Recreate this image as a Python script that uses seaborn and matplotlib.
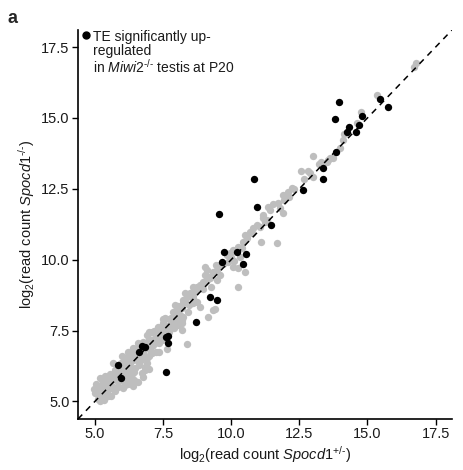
import numpy as np
import pandas as pd
import matplotlib
matplotlib.use("Agg")
import matplotlib.pyplot as plt
import seaborn as sns

# ---- data (log2 read counts) ----
other_x = [16.77, 16.69, 15.34, 14.75, 14.60, 14.13, 14.09, 13.98, 13.73, 13.54,
           13.28, 12.99, 13.21, 13.51, 13.62, 12.55, 12.88, 12.99, 12.66, 12.81,
           12.22, 12.08, 12.30, 12.11, 11.89, 11.93, 11.71, 11.53, 11.34, 11.42,
           11.89, 11.78, 11.16, 11.23, 11.16, 11.31, 11.05, 10.94, 10.79, 10.68,
           10.76, 10.50, 10.57, 10.43, 11.09, 11.67, 10.39, 10.24, 10.06, 9.95,
           9.84, 10.32, 10.24, 10.50, 10.06, 9.58, 9.47, 9.33, 9.11, 9.03,
           9.03, 9.22, 9.47, 8.96, 8.85, 8.74, 8.59, 8.67, 8.48, 8.30,
           8.37, 8.30, 8.23, 8.23, 8.19, 10.24, 9.33, 9.40, 9.14, 8.85,
           8.59, 8.41, 8.23, 8.19, 7.93, 7.86, 7.57, 7.49, 7.31, 8.04,
           8.19, 7.86, 8.37, 7.64,
           5.18, 5.11, 5.29, 5.48, 5.26, 5.44, 5.62, 5.73, 5.18, 5.37,
           5.55, 5.84, 6.03, 6.21, 6.39, 6.58, 6.17, 6.36, 5.99, 5.73,
           6.10, 6.28, 6.47, 6.72, 6.83, 6.17, 6.36, 6.47, 6.65, 6.91,
           7.09, 6.94, 7.13, 6.76, 6.58, 6.91, 7.09, 7.27, 7.46, 7.57,
           7.31, 7.75, 7.93, 8.12, 8.04, 8.19,
           5.00, 5.05, 4.95, 5.20, 5.35, 5.40, 5.60, 5.50, 5.30, 5.70,
           5.90, 5.80, 5.95, 6.00, 6.10, 6.25, 6.30, 6.40, 6.50, 6.60,
           6.70, 6.55, 6.80, 6.90, 7.00, 7.10, 7.20, 7.15, 7.35, 7.40,
           7.50, 7.60, 7.70, 7.80, 7.90, 8.00, 6.05, 6.45, 5.65, 6.20,
           7.25, 7.00, 5.45, 6.75, 7.00, 8.60, 8.90, 9.20, 9.70, 10.00,
           5.10, 5.25, 5.45, 5.55, 5.65, 5.85, 5.75, 5.95, 6.05, 6.15,
           6.30, 6.35, 6.45, 6.55, 6.60, 6.70, 6.85, 6.95, 7.05, 7.15,
           7.25, 7.35, 7.45, 7.50, 7.65, 7.70, 7.85, 7.95, 8.05, 8.10,
           5.30, 5.60, 6.20, 6.85, 7.35, 6.00, 6.40, 7.00, 8.45, 8.60,
           8.75, 8.95, 9.10, 9.25, 9.45, 9.60, 9.90, 10.10]
other_y = [16.94, 16.80, 15.81, 15.22, 14.83, 14.44, 14.23, 13.95, 13.60, 13.50,
           13.43, 13.67, 13.39, 13.43, 13.57, 13.11, 13.04, 12.90, 12.86, 13.11,
           12.51, 12.37, 12.48, 12.20, 12.27, 12.09, 11.99, 11.95, 11.85, 11.74,
           11.64, 11.81, 11.46, 11.32, 11.57, 11.39, 11.14, 11.21, 11.11, 10.97,
           10.93, 10.86, 10.76, 10.62, 10.62, 10.58, 10.41, 10.44, 10.34, 10.23,
           10.16, 10.09, 9.70, 9.56, 9.74, 9.81, 9.63, 9.56, 9.63, 9.74,
           9.46, 9.35, 9.28, 9.21, 9.11, 9.04, 9.04, 8.86, 8.83, 8.83,
           8.69, 8.58, 8.58, 8.48, 8.30, 9.04, 8.23, 8.27, 7.98, 8.34,
           8.48, 8.16, 7.98, 7.88, 8.41, 8.16, 7.95, 7.77, 7.63, 7.98,
           7.77, 7.63, 7.04, 6.86,
           5.18, 5.42, 5.32, 5.18, 5.60, 5.70, 5.53, 5.35, 5.84, 5.88,
           5.95, 5.67, 5.49, 5.67, 5.53, 5.70, 5.88, 5.95, 6.05, 6.12,
           6.30, 6.37, 6.19, 6.02, 6.23, 6.58, 6.72, 6.54, 6.47, 6.54,
           6.72, 6.93, 7.00, 7.11, 7.07, 7.35, 7.46, 7.28, 7.18, 7.53,
           7.60, 7.70, 7.88, 8.05, 7.70, 7.53,
           5.30, 5.60, 5.45, 5.00, 5.05, 5.45, 5.20, 5.60, 5.75, 5.80,
           5.90, 6.20, 6.35, 5.75, 6.05, 6.10, 5.85, 6.45, 6.70, 6.30,
           6.60, 6.90, 6.80, 6.35, 7.20, 6.95, 7.05, 7.50, 7.25, 7.45,
           7.65, 7.20, 7.45, 7.95, 7.60, 8.20, 5.55, 5.75, 6.35, 6.75,
           6.75, 6.60, 5.20, 5.85, 6.15, 8.75, 9.00, 9.40, 9.85, 10.10,
           5.10, 5.50, 5.35, 5.80, 5.45, 5.50, 6.00, 6.10, 5.95, 6.45,
           6.20, 6.55, 6.05, 6.45, 6.85, 6.45, 6.60, 7.05, 6.75, 7.20,
           7.45, 7.05, 7.35, 7.90, 7.65, 7.90, 7.75, 8.00, 8.35, 7.90,
           5.60, 5.90, 5.60, 6.10, 6.75, 6.60, 6.90, 7.45, 8.40, 8.65,
           8.50, 8.95, 9.30, 9.05, 9.80, 9.45, 9.90, 9.95]

te_x = [5.84, 5.95, 6.61, 6.72, 6.83, 7.60, 7.68, 7.68, 7.60, 8.70,
        9.22, 9.47, 9.73, 9.66, 10.21, 10.54, 10.43, 9.55, 10.94, 11.45,
        10.83, 12.62, 13.36, 13.36, 13.83, 13.94, 13.80, 14.24, 14.31, 14.57,
        14.68, 14.79, 15.45, 15.74]
te_y = [6.30, 5.84, 6.76, 6.97, 6.93, 7.28, 7.32, 7.07, 6.05, 7.81,
        8.69, 8.58, 10.27, 9.92, 10.27, 10.20, 9.85, 11.60, 11.85, 11.21,
        12.83, 12.44, 13.25, 12.83, 13.78, 15.57, 14.97, 14.52, 14.69, 14.52,
        14.76, 15.08, 15.67, 15.39]

tick_values = [5.0, 7.5, 10.0, 12.5, 15.0, 17.5]
tick_labels = ["5.0", "7.5", "10.0", "12.5", "15.0", "17.5"]

df_other = pd.DataFrame({"het": other_x, "ko": other_y})
df_te = pd.DataFrame({"het": te_x, "ko": te_y})

# ---- style ----
sns.set_theme(style="ticks")
plt.rcParams['font.family'] = ['Liberation Sans', 'DejaVu Sans']
plt.rcParams['mathtext.fontset'] = 'custom'
plt.rcParams['mathtext.rm'] = 'Liberation Sans'
plt.rcParams['mathtext.it'] = 'Liberation Sans:italic'
plt.rcParams['mathtext.bf'] = 'Liberation Sans:bold'

fig = plt.figure(figsize=(4.64, 4.70), dpi=100)
ax = fig.add_axes([78/464, 1-419/470, 374/464, 389/470])

lo, hi = 4.38, 18.1
ax.set_xlim(lo, hi)
ax.set_ylim(lo, hi)

sns.scatterplot(data=df_other, x="het", y="ko", ax=ax, color="#bebebe",
                s=28, linewidth=0, legend=False, zorder=2)
sns.scatterplot(data=df_te, x="het", y="ko", ax=ax, color="black",
                s=28, linewidth=0, legend=False, zorder=3)
ax.axline((lo, lo), slope=1, color="black", lw=1.1, ls=(0, (4, 3.5)), zorder=4)

ax.set_xticks(tick_values)
ax.set_xticklabels(tick_labels)
ax.set_yticks(tick_values)
ax.set_yticklabels(tick_labels)
ax.tick_params(axis="both", direction="out", length=4, width=1.0,
               color="black", labelsize=10.5, labelcolor="#1a1a1a", pad=2)
for sp in ["top", "right"]:
    ax.spines[sp].set_visible(False)
for sp in ["left", "bottom"]:
    ax.spines[sp].set_color("black")
    ax.spines[sp].set_linewidth(1.2)

ax.set_xlabel(r"log$_2$(read count $\mathit{Spocd1}^{\text{+/-}}$)", fontsize=10.5,
              color="#1a1a1a", labelpad=2)
ax.set_ylabel(r"log$_2$(read count $\mathit{Spocd1}^{\text{-/-}}$)", fontsize=10.5,
              color="#1a1a1a", labelpad=3)

# legend key
ax.plot([86/464], [1-35/470], marker="o", ms=5, color="black", ls="none",
        transform=fig.transFigure, clip_on=False)
legend_lines = ["TE significantly up-", "regulated",
                r"in $\mathit{Miwi2}^{\text{-/-}}$ testis at P20"]
for line, py in zip(legend_lines, [41.0, 55.5, 73.0]):
    fig.text(93/464, 1-py/470, line, ha="left", va="baseline", fontsize=10.0,
             color="#1a1a1a")

fig.text(8/464, 1-23/470, "a", fontsize=13, fontweight="bold", ha="left", va="baseline")

fig.savefig("out.png", dpi=100)
